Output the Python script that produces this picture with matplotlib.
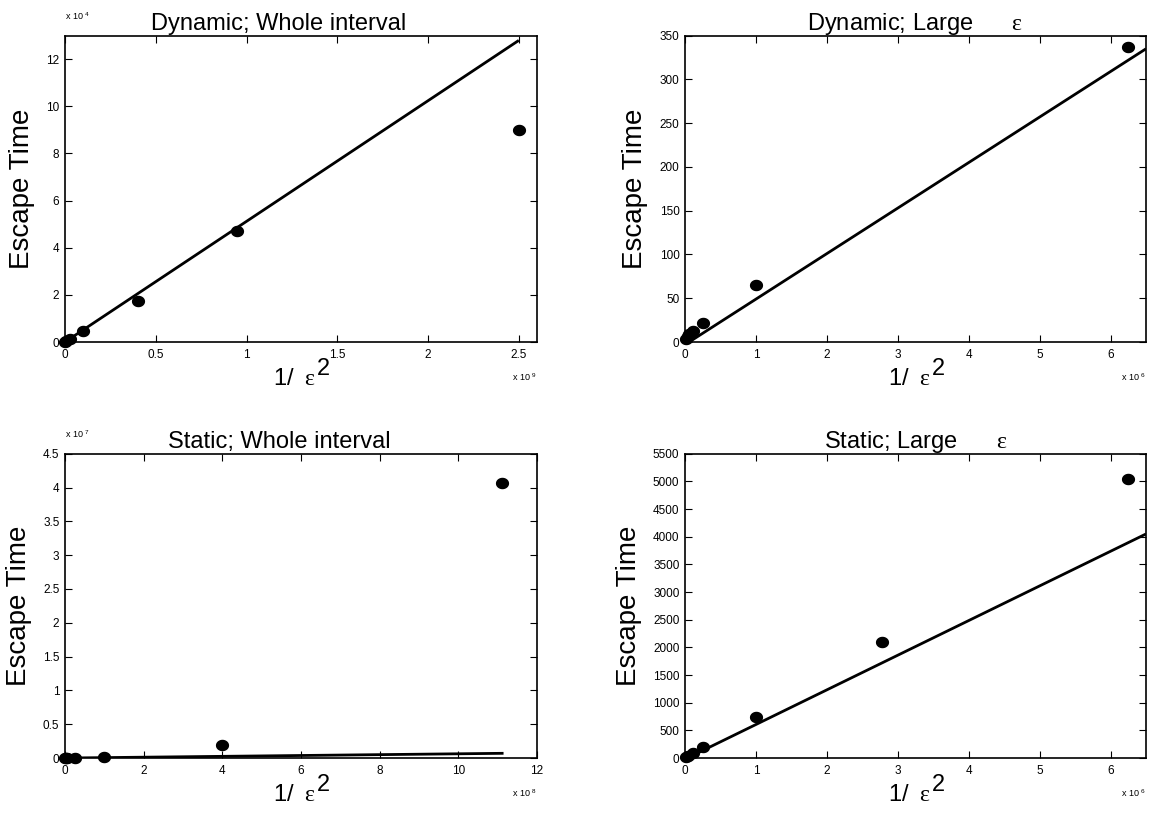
import matplotlib
matplotlib.use("Agg")
import numpy as np
import matplotlib.pyplot as plt
from matplotlib.ticker import FuncFormatter

plt.rcParams['font.family'] = ['Liberation Sans', 'DejaVu Sans']
plt.rcParams['mathtext.fontset'] = 'custom'
plt.rcParams['mathtext.rm'] = 'Liberation Sans'
plt.rcParams['mathtext.it'] = 'Liberation Sans:italic'
plt.rcParams['mathtext.sf'] = 'Liberation Serif'
plt.rcParams['mathtext.default'] = 'rm'

# ---- data (x = 1/eps^2, y = escape time) ----
dyn_whole_x = [2.5e9, 0.95e9, 4.0e8, 1.0e8, 2.5e7, 6.25e6, 1.0e6]
dyn_whole_y = [9.0e4, 4.7e4, 1.76e4, 4.8e3, 1.4e3, 337, 65]
dyn_whole_fit_x = [0.0, 2.5e9]
dyn_whole_fit_y = [0.0, 12.8e4]

dyn_large_x = [6.25e6, 1.0e6, 2.5e5, 1.111e5, 6.25e4, 4.0e4, 1.0e4]
dyn_large_y = [337, 65, 22, 13, 9, 7, 4]
dyn_large_fit_x = [0.0, 6.5e6]
dyn_large_fit_y = [-3.0, 335.0]

sta_whole_x = [1.111e9, 4.0e8, 1.0e8, 2.5e7, 6.25e6, 2.78e6, 1.0e6]
sta_whole_y = [4.07e7, 1.9e6, 1.2e5, 2.5e4, 5050, 2100, 740]
sta_whole_fit_x = [0.0, 1.115e9]
sta_whole_fit_y = [0.0, 7.0e5]

sta_large_x = [6.25e6, 2.78e6, 1.0e6, 2.5e5, 1.111e5, 4.0e4, 1.0e4]
sta_large_y = [5050, 2100, 740, 200, 90, 40, 15]
sta_large_fit_x = [0.0, 6.5e6]
sta_large_fit_y = [-20.0, 4050.0]

EPS = r'$\mathsf{ε}$'

panels = [
    dict(title='Dynamic; Whole interval', tx=0.452, x=dyn_whole_x, y=dyn_whole_y,
         fx=dyn_whole_fit_x, fy=dyn_whole_fit_y, xlim=(0, 2.6e9), ylim=(0, 13e4),
         xticks=[0, 0.5, 1, 1.5, 2, 2.5], xs=1e9, xexp='9',
         yticks=[0, 2, 4, 6, 8, 10, 12], ys=1e4, yexp='4',
         pos=[0.0553, 0.5819, 0.4017, 0.3745]),
    dict(title='Dynamic; Large      ' + EPS, tx=0.5, x=dyn_large_x, y=dyn_large_y,
         fx=dyn_large_fit_x, fy=dyn_large_fit_y, xlim=(0, 6.5e6), ylim=(0, 350),
         xticks=[0, 1, 2, 3, 4, 5, 6], xs=1e6, xexp='6',
         yticks=[0, 50, 100, 150, 200, 250, 300, 350], ys=1, yexp=None,
         pos=[0.583, 0.5819, 0.3923, 0.3745]),
    dict(title='Static; Whole interval', tx=0.455, x=sta_whole_x, y=sta_whole_y,
         fx=sta_whole_fit_x, fy=sta_whole_fit_y, xlim=(0, 12e8), ylim=(0, 4.5e7),
         xticks=[0, 2, 4, 6, 8, 10, 12], xs=1e8, xexp='8',
         yticks=[0, 0.5, 1, 1.5, 2, 2.5, 3, 3.5, 4, 4.5], ys=1e7, yexp='7',
         pos=[0.0553, 0.0733, 0.4017, 0.372]),
    dict(title='Static; Large      ' + EPS, tx=0.5, x=sta_large_x, y=sta_large_y,
         fx=sta_large_fit_x, fy=sta_large_fit_y, xlim=(0, 6.5e6), ylim=(0, 5500),
         xticks=[0, 1, 2, 3, 4, 5, 6], xs=1e6, xexp='6',
         yticks=list(range(0, 5501, 500)), ys=1, yexp=None,
         pos=[0.583, 0.0733, 0.3923, 0.372]),
]

fig = plt.figure(figsize=(11.75, 8.18), dpi=100)

t = np.linspace(0, 2 * np.pi, 40)
ellipse = list(zip(np.cos(t), 0.87 * np.sin(t)))

def fmt(scale):
    return FuncFormatter(lambda v, p: ('%g' % (v / scale)))

for P in panels:
    ax = fig.add_axes(P['pos'])
    ax.plot(P['fx'], P['fy'], color='black', lw=2.0, solid_capstyle='butt', zorder=2)
    ax.plot(P['x'], P['y'], linestyle='none', marker=ellipse, markersize=9.5,
            color='black', markeredgewidth=0, zorder=3, clip_on=False)
    ax.set_xlim(*P['xlim'])
    ax.set_ylim(*P['ylim'])
    ax.set_xticks([v * P['xs'] for v in P['xticks']])
    ax.set_yticks([v * P['ys'] for v in P['yticks']])
    ax.xaxis.set_major_formatter(fmt(P['xs']))
    ax.yaxis.set_major_formatter(fmt(P['ys']))
    ax.tick_params(direction='in', top=True, right=True, length=5, width=0.8,
                   labelsize=8.5)
    ax.tick_params(axis='x', pad=5)
    ax.tick_params(axis='y', pad=4)
    for s in ax.spines.values():
        s.set_linewidth(1.2)
    ttl = ax.set_title(P['title'], fontsize=17, pad=4)
    ttl.set_x(P['tx'])
    ax.set_ylabel('Escape Time', fontsize=20, labelpad=8)
    xl = ax.set_xlabel('1/ ' + r'$\;\mathsf{ε}$', fontsize=17)
    ax.xaxis.set_label_coords(0.487, -0.085)
    ax.annotate('2', xy=(1, 0), xycoords=xl, xytext=(0.5, 11),
                textcoords='offset points', fontsize=17, va='baseline', ha='left')
    if P['xexp']:
        ax.text(1.0, -0.095, r'x 10 $^{%s}$' % P['xexp'], transform=ax.transAxes,
                fontsize=6.5, ha='right', va='top')
    if P['yexp']:
        ax.text(0.0, 1.045, r'x 10 $^{%s}$' % P['yexp'], transform=ax.transAxes,
                fontsize=6.5, ha='left', va='bottom')

fig.savefig('out.png', dpi=100)
